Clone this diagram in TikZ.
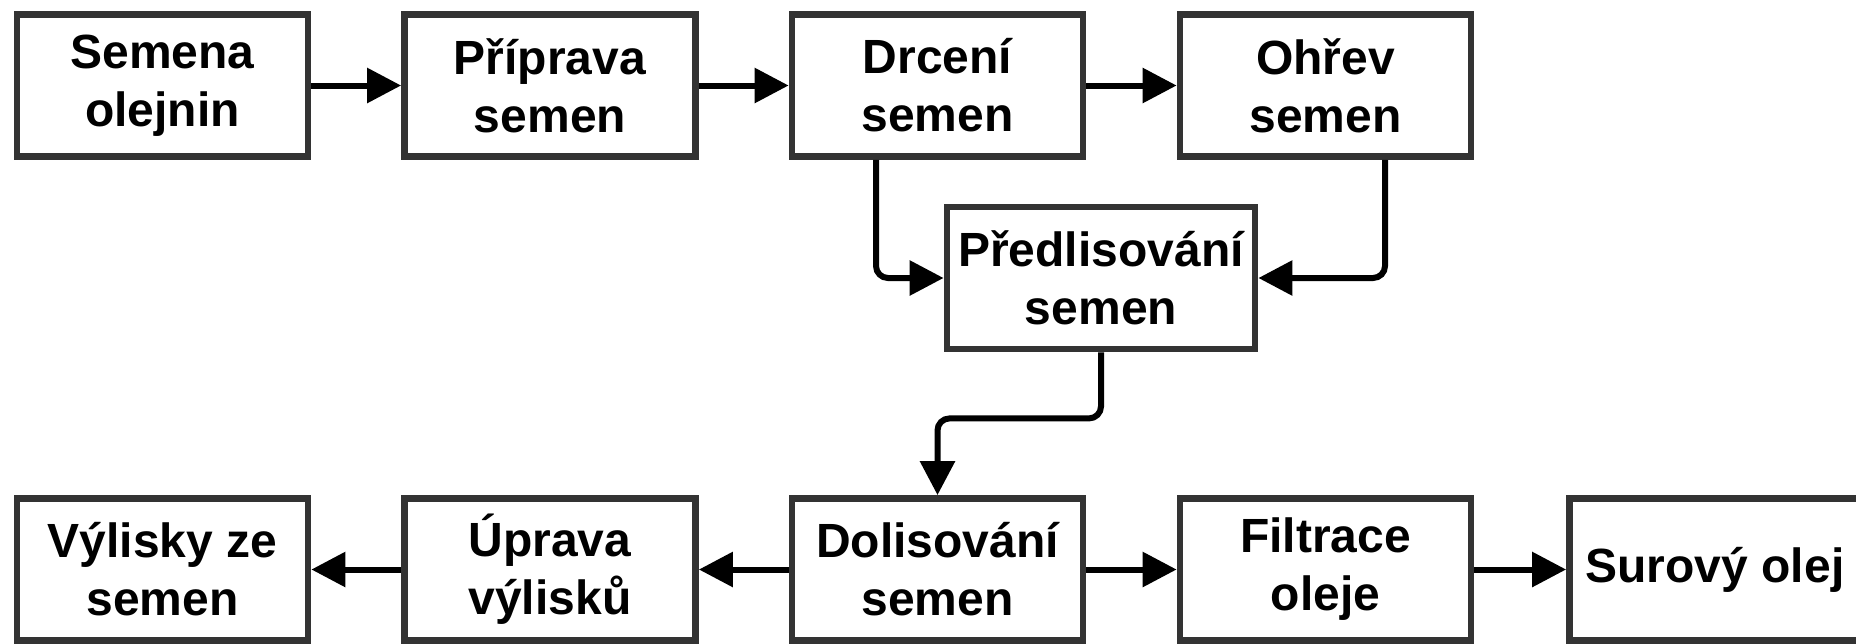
\documentclass[tikz,border=0pt]{standalone}
\usepackage{fontspec}
\setmainfont{Liberation Sans}
\usetikzlibrary{arrows.meta}
\definecolor{boxc}{HTML}{333333}
\begin{document}
\begin{tikzpicture}[x=0.5pt,y=-0.5pt,
 proc/.style={draw=boxc, line width=3.4pt, fill=white, minimum width=145.5pt, minimum height=71pt, align=center, inner sep=0pt, font=\fontsize{24}{29}\selectfont\bfseries},
 flow/.style={line width=3pt, draw=black, -{Triangle[length=17pt,width=17pt]}, rounded corners=6pt}]
\useasboundingbox (0,0) rectangle (1856,643);
% top row
\node[proc] (sem) at (162.5,85.5) {Semena\\olejnin};
\node[proc] (pri) at (550,85.5) {Příprava\\semen};
\node[proc] (drc) at (937.5,85.5) {Drcení\\semen};
\node[proc] (ohr) at (1325.5,85.5) {Ohřev\\semen};
% middle
\node[proc, minimum width=154pt] (pre) at (1101,278) {Předlisování\\semen};
% bottom row
\node[proc] (vyl) at (162.5,569.5) {Výlisky ze\\semen};
\node[proc] (upr) at (550,569.5) {Úprava\\výlisků};
\node[proc] (dol) at (937.5,569.5) {Dolisování\\semen};
\node[proc] (fil) at (1325.5,569.5) {Filtrace\\oleje};
\node[proc] (sur) at (1715,569.5) {Surový olej};
% connectors
\draw[flow] (sem.east) -- (pri.west);
\draw[flow] (pri.east) -- (drc.west);
\draw[flow] (drc.east) -- (ohr.west);
\draw[flow] ([xshift=-30.75pt]drc.south) |- (pre.west);
\draw[flow] ([xshift=29.75pt]ohr.south) |- (pre.east);
\draw[flow] (pre.south) -- ++(0,66) -| (dol.north);
\draw[flow] (dol.west) -- (upr.east);
\draw[flow] (upr.west) -- (vyl.east);
\draw[flow] (dol.east) -- (fil.west);
\draw[flow] (fil.east) -- (sur.west);
\end{tikzpicture}
\end{document}
